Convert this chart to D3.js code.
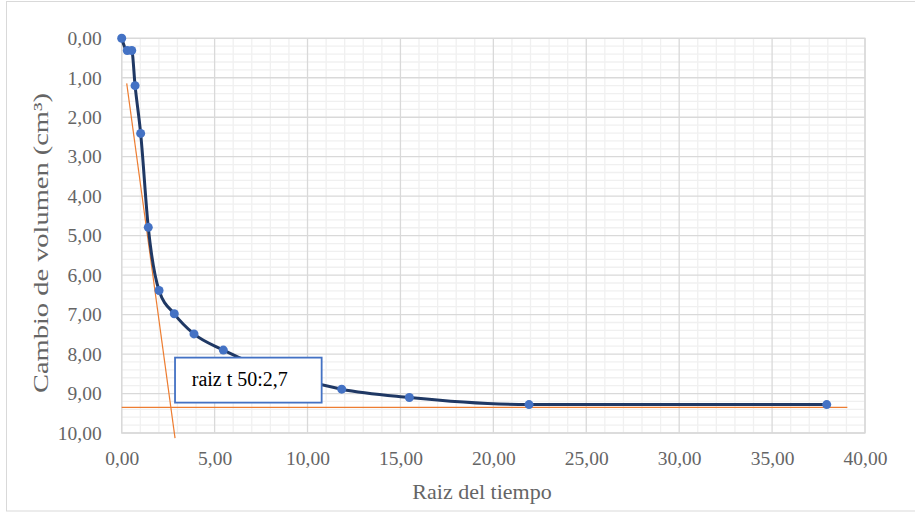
<!DOCTYPE html>
<html>
<head>
<meta charset="utf-8">
<script src="https://cdn.jsdelivr.net/npm/d3@7"></script>
<style>
  body { margin: 0; background: #fff; }
  text { font-family: "Liberation Serif", "Times New Roman", serif; }
</style>
</head>
<body>
<div id="chart"></div>
<script>
// Data
var raizTiempo = [0, 0.30, 0.54, 0.72, 1.02, 1.43, 2.01, 2.83, 3.89, 5.47, 11.84, 15.48, 21.92, 37.94];
var cambioVolumen = [0, 0.31, 0.31, 1.20, 2.41, 4.79, 6.39, 6.98, 7.49, 7.90, 8.89, 9.10, 9.28, 9.28];

// Construction lines (tangent and final asymptote)
var tangenteX = [0.27, 2.87];
var tangenteY = [1.14, 10.13];
var asintotaX = [0, 39.05];
var asintotaY = [9.35, 9.35];

var xTicks = [0, 5, 10, 15, 20, 25, 30, 35, 40];
var yTicks = [0, 1, 2, 3, 4, 5, 6, 7, 8, 9, 10];
var anotacion = "raiz t 50:2,7";

// SVG size
var svgWidth = 915;
var svgHeight = 512;

var margin = { top: 38.3, right: 50, bottom: 79, left: 121.7 };
var width = 865 - margin.left;
var height = 433 - margin.top;

var svg = d3.select("#chart")
  .append("svg")
  .attr("width", svgWidth)
  .attr("height", svgHeight);

// outer chart border
svg.append("rect")
  .attr("x", 6.5)
  .attr("y", 1.5)
  .attr("width", 915)
  .attr("height", 509.5)
  .attr("fill", "none")
  .attr("stroke", "#d9d9d9");

var chartGroup = svg.append("g")
  .attr("transform", `translate(${margin.left}, ${margin.top})`);

var es = d3.formatLocale({ decimal: ",", thousands: ".", grouping: [3], currency: ["", ""] });
var fmt = es.format(".2f");

var xScale = d3.scaleLinear().domain([0, 40]).range([0, width]);
var yScale = d3.scaleLinear().domain([0, 10]).range([0, height]);

// minor gridlines
chartGroup.append("g")
  .selectAll("line")
  .data(d3.range(0, 41, 1).filter(d => d % 5 !== 0))
  .enter()
  .append("line")
  .attr("x1", d => xScale(d)).attr("x2", d => xScale(d))
  .attr("y1", 0).attr("y2", height)
  .attr("stroke", "#f0f0f0").attr("stroke-width", 1.3);

chartGroup.append("g")
  .selectAll("line")
  .data(d3.range(0, 50).map(i => i * 0.2).filter((d, i) => i % 5 !== 0))
  .enter()
  .append("line")
  .attr("x1", 0).attr("x2", width)
  .attr("y1", d => yScale(d)).attr("y2", d => yScale(d))
  .attr("stroke", "#f0f0f0").attr("stroke-width", 1.3);

// major gridlines
chartGroup.append("g")
  .selectAll("line")
  .data(xTicks)
  .enter()
  .append("line")
  .attr("x1", d => xScale(d)).attr("x2", d => xScale(d))
  .attr("y1", 0).attr("y2", height)
  .attr("stroke", "#d9d9d9").attr("stroke-width", 1.3);

chartGroup.append("g")
  .selectAll("line")
  .data(yTicks)
  .enter()
  .append("line")
  .attr("x1", 0).attr("x2", width)
  .attr("y1", d => yScale(d)).attr("y2", d => yScale(d))
  .attr("stroke", "#d9d9d9").attr("stroke-width", 1.3);

// axes (labels only)
var bottomAxis = d3.axisBottom(xScale).tickValues(xTicks).tickFormat(fmt).tickSize(0).tickPadding(25);
var leftAxis = d3.axisLeft(yScale).tickValues(yTicks).tickFormat(fmt).tickSize(0).tickPadding(20);

var xAxisG = chartGroup.append("g")
  .attr("transform", `translate(0, ${height})`)
  .call(bottomAxis);
var yAxisG = chartGroup.append("g").call(leftAxis);

[xAxisG, yAxisG].forEach(function(g) {
  g.select(".domain").remove();
  g.selectAll("text")
    .attr("fill", "#656565")
    .style("font-family", "'Liberation Serif', serif")
    .style("font-size", "19.5px");
});
xAxisG.selectAll("text").attr("dy", "0.35em").attr("y", 25);

// plot border
chartGroup.append("rect")
  .attr("width", width)
  .attr("height", height)
  .attr("fill", "none")
  .attr("stroke", "#d9d9d9")
  .attr("stroke-width", 1.3);

// orange construction lines
var lineFn = d3.line().x(d => xScale(d[0])).y(d => yScale(d[1]));
chartGroup.append("path")
  .datum(d3.zip(tangenteX, tangenteY))
  .attr("d", lineFn)
  .attr("fill", "none")
  .attr("stroke", "#ED7D31")
  .attr("stroke-width", 1.2);
chartGroup.append("path")
  .datum(d3.zip(asintotaX, asintotaY))
  .attr("d", lineFn)
  .attr("fill", "none")
  .attr("stroke", "#ED7D31")
  .attr("stroke-width", 1.2);

// smooth series line
var data = d3.zip(raizTiempo, cambioVolumen);
var curveFn = d3.line()
  .x(d => xScale(d[0]))
  .y(d => yScale(d[1]))
  .curve(d3.curveMonotoneX);

chartGroup.append("path")
  .datum(data)
  .attr("d", curveFn)
  .attr("fill", "none")
  .attr("stroke", "#1F3864")
  .attr("stroke-width", 3);

chartGroup.selectAll("circle")
  .data(data)
  .enter()
  .append("circle")
  .attr("cx", d => xScale(d[0]))
  .attr("cy", d => yScale(d[1]))
  .attr("r", 4.5)
  .attr("fill", "#4472C4");

// annotation text box
var box = chartGroup.append("g");
box.append("rect")
  .attr("x", xScale(2.87))
  .attr("y", yScale(8.09))
  .attr("width", xScale(10.76) - xScale(2.87))
  .attr("height", yScale(9.23) - yScale(8.09))
  .attr("fill", "#fff")
  .attr("stroke", "#4472C4")
  .attr("stroke-width", 1.8);
box.append("text")
  .attr("x", xScale(2.87) + 16.7)
  .attr("y", yScale(8.09) + 28)
  .attr("fill", "#000")
  .style("font-size", "20px")
  .text(anotacion);

// axis titles
svg.append("text")
  .attr("transform", "translate(48, 243) rotate(-90)")
  .attr("text-anchor", "middle")
  .attr("fill", "#656565")
  .attr("textLength", 300)
  .attr("lengthAdjust", "spacingAndGlyphs")
  .style("font-size", "21px")
  .text("Cambio de volumen (cm³)");

svg.append("text")
  .attr("x", 482)
  .attr("y", 499)
  .attr("text-anchor", "middle")
  .attr("fill", "#656565")
  .style("font-size", "22px")
  .text("Raiz del tiempo");
</script>
</body>
</html>
